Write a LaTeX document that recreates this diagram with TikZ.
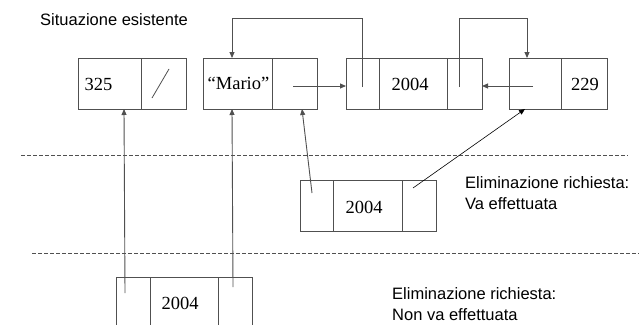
\documentclass[tikz,border=0pt]{standalone}
\usepackage{fontspec}
\setmainfont{Liberation Serif}
\newfontfamily\labfont{Liberation Sans}
\usetikzlibrary{arrows.meta}
\definecolor{linegray}{RGB}{80,80,80}
\tikzset{
  cell/.style={draw=linegray, line width=0.9pt, minimum height=51pt, inner sep=0pt, outer sep=0pt},
  val/.style={inner sep=0pt, font=\fontsize{18.5}{20}\selectfont},
  lab/.style={inner sep=0pt, anchor=west, align=left, font=\labfont\fontsize{16.5}{21}\selectfont},
  arr/.style={draw=linegray, line width=0.9pt, -{Triangle[length=6pt,width=5pt]}},
  ptr/.style={draw=linegray, line width=0.8pt},
  sep/.style={draw=linegray, line width=0.7pt, dash pattern=on 4pt off 2pt}
}
\begin{document}
\begin{tikzpicture}[x=1pt,y=-1pt]
\useasboundingbox (0,0) rectangle (639,324);
% title
\node[lab] (title) at (40,20) {Situazione esistente};
% box 1
\node[cell, minimum width=63pt] (b1a) at (109.5,83.5) {};
\node[cell, minimum width=45pt] (b1b) at (163.5,83.5) {};
\node[val] (t1) at (98.5,84) {325};
\draw[ptr] (152,98) -- (169,69);
% box 2
\node[cell, minimum width=69pt] (b2a) at (237.5,83.5) {};
\node[cell, minimum width=45pt] (b2b) at (294.5,83.5) {};
\node[val] (t2) at (238.5,83) {``Mario''};
% box 3
\node[cell, minimum width=33pt] (b3a) at (362.5,83.5) {};
\node[cell, minimum width=68pt] (b3b) at (413,83.5) {};
\node[cell, minimum width=35pt] (b3c) at (464.5,83.5) {};
\node[val] (t3) at (410,84) {2004};
% box 4
\node[cell, minimum width=52pt] (b4a) at (535,83.5) {};
\node[cell, minimum width=46pt] (b4b) at (584,83.5) {};
\node[val] (t4) at (585,84) {229};
% box 5
\node[cell, minimum width=33pt] (b5a) at (316.5,205.5) {};
\node[cell, minimum width=69pt] (b5b) at (367.5,205.5) {};
\node[cell, minimum width=34pt] (b5c) at (419,205.5) {};
\node[val] (t5) at (364,207) {2004};
% box 6
\node[cell, minimum width=34pt] (b6a) at (133,302.5) {};
\node[cell, minimum width=68pt] (b6b) at (184,302.5) {};
\node[cell, minimum width=34pt] (b6c) at (235,302.5) {};
\node[val] (t6) at (180,303) {2004};
% labels
\node[lab] (l1) at (465,193.5) {Eliminazione richiesta:\\Va effettuata};
\node[lab] (l2) at (392,304) {Eliminazione richiesta:\\Non va effettuata};
% separators
\draw[sep] (21,155.5) -- (628,155.5);
\draw[sep] (32,253) -- (639,253);
% pointer origins and targets
\coordinate (p2) at (293,86);
\coordinate (p3a) at (362,87);
\coordinate (p3c) at (459,87);
\coordinate (p4) at (533,86);
\coordinate (p5a) at (312,193);
\coordinate (p5c) at (413,188);
\coordinate (p6a) at (125,293);
\coordinate (p6c) at (233,287);
\coordinate (in2top) at (232,58);
\coordinate (in4top) at (527,58);
\coordinate (in1bot) at (124,109);
\coordinate (in2bot) at (232,109);
\coordinate (in2bot2) at (302,109);
\coordinate (in4bot) at (525,109);
\coordinate (c1) at (362,18);
\coordinate (c2) at (459,18);
% connectors
\draw[arr] (p3a) -- (c1) -| (in2top);
\draw[arr] (p3c) -- (c2) -| (in4top);
\draw[arr] (p2) -- (p2 -| b3a.west);
\draw[arr] (p4) -- (p4 -| b3c.east);
\draw[arr] (p5a) -- (in2bot2);
\draw[arr, draw=black, line width=0.6pt] (p5c) -- (in4bot);
\draw[arr] (p6a) -- (in1bot);
\draw[arr] (p6c) -- (in2bot);
\end{tikzpicture}
\end{document}
